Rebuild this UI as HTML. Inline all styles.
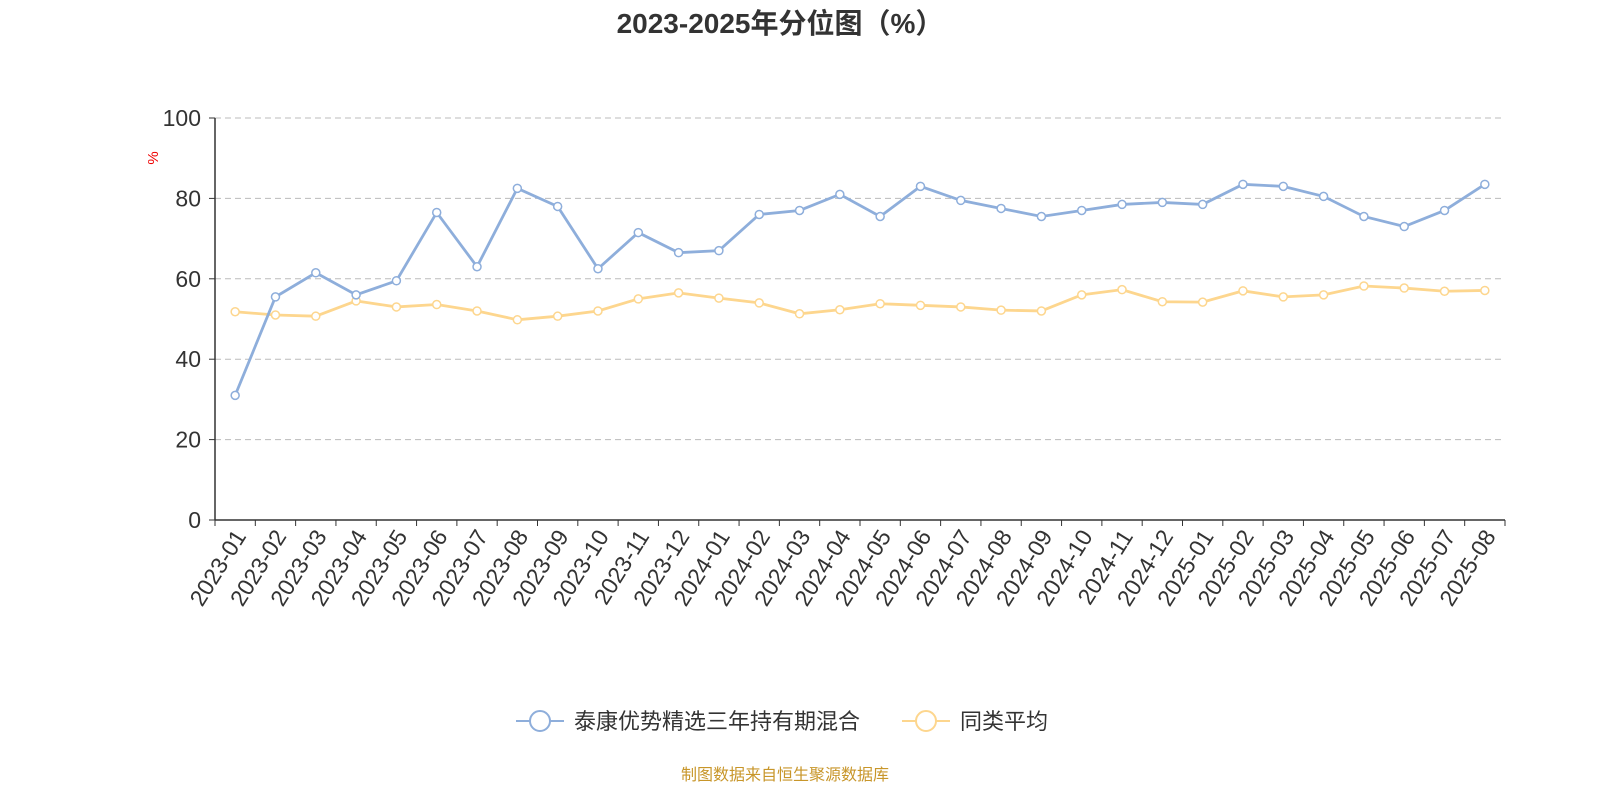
<!DOCTYPE html>
<html><head><meta charset="utf-8"><style>
body{margin:0;background:#fff;width:1600px;height:800px;overflow:hidden}
text{font-family:"Liberation Sans","Noto Sans CJK SC",sans-serif}
</style></head><body>
<svg id="chart" width="1600" height="800">
<text x="780" y="33" text-anchor="middle" font-size="28" font-weight="bold" fill="#333">2023-2025年分位图（%）</text>
<text x="0" y="0" transform="translate(158,158) rotate(-90)" text-anchor="middle" font-size="15" fill="#e00">%</text>
<g id="grid"></g><g id="axes"></g><g id="series"></g>
<g>
<g>
<line x1="516" y1="721" x2="564" y2="721" stroke="#8eaedb" stroke-width="2"/>
<circle cx="540" cy="721" r="10" fill="#fff" stroke="#8eaedb" stroke-width="2"/>
<text x="574" y="729" font-size="22" fill="#333">泰康优势精选三年持有期混合</text></g>
<g>
<line x1="902" y1="721" x2="950" y2="721" stroke="#fdd68e" stroke-width="2"/>
<circle cx="926" cy="721" r="10" fill="#fff" stroke="#fdd68e" stroke-width="2"/>
<text x="960" y="729" font-size="22" fill="#333">同类平均</text></g>
</g>
<text x="785" y="780" text-anchor="middle" font-size="16" fill="#c8962a">制图数据来自恒生聚源数据库</text>
</svg>
<script>
const categories=["2023-01","2023-02","2023-03","2023-04","2023-05","2023-06","2023-07","2023-08","2023-09","2023-10","2023-11","2023-12","2024-01","2024-02","2024-03","2024-04","2024-05","2024-06","2024-07","2024-08","2024-09","2024-10","2024-11","2024-12","2025-01","2025-02","2025-03","2025-04","2025-05","2025-06","2025-07","2025-08"];
const fundValues=[31,55.5,61.5,56,59.5,76.5,63,82.5,78,62.5,71.5,66.5,67,76,77,81,75.5,83,79.5,77.5,75.5,77,78.5,79,78.5,83.5,83,80.5,75.5,73,77,83.5];
const avgValues=[51.8,51,50.7,54.5,53,53.6,52,49.8,50.7,52,55,56.5,55.2,54,51.3,52.3,53.8,53.4,53,52.2,52,56,57.3,54.3,54.2,57,55.5,56,58.2,57.7,56.9,57.1];
const yTicks=[0,20,40,60,80,100];
const NS="http://www.w3.org/2000/svg";
const X0=215,X1=1505,Y0=520,Y1=118;
const bw=(X1-X0)/categories.length;
const xs=i=>X0+bw*(i+0.5);
const ys=v=>Y0-(v/100)*(Y0-Y1);
function mk(tag,attrs,parent){const e=document.createElementNS(NS,tag);for(const k in attrs)e.setAttribute(k,attrs[k]);parent.appendChild(e);return e;}
const grid=document.getElementById('grid'),axes=document.getElementById('axes'),series=document.getElementById('series');
yTicks.forEach(t=>{
  if(t>0){const g=mk('line',{x1:X0,x2:X1,y1:ys(t),y2:ys(t),stroke:'#bbb','stroke-dasharray':'6,4'},grid);
  
  }
  const tk=mk('line',{x1:X0-6,x2:X0,y1:ys(t),y2:ys(t),stroke:'#333'},axes);
  
  
  const tx=mk('text',{x:X0-14,y:ys(t)+8,'text-anchor':'end','font-size':23,fill:'#333'},axes);
  tx.textContent=t;
  
  
});
const ya=mk('line',{x1:X0,x2:X0,y1:Y1,y2:Y0,stroke:'#333','stroke-width':1.5},axes);


const xa=mk('line',{x1:X0,x2:X1,y1:Y0,y2:Y0,stroke:'#333','stroke-width':1.5},axes);


for(let i=0;i<=categories.length;i++){
  const t=mk('line',{x1:X0+bw*i,x2:X0+bw*i,y1:Y0,y2:Y0+6,stroke:'#333'},axes);
  
  
}
categories.forEach((c,i)=>{
  const x=xs(i)+2,y=Y0+10;
  const t=mk('text',{x:x,y:y,'text-anchor':'end','font-size':23,fill:'#333',transform:`rotate(-58 ${x} ${y})`,dy:'0.5em'},axes);
  t.textContent=c;
  
  
});
function drawSeries(vals,color,name){
  const p=mk('polyline',{points:vals.map((v,i)=>xs(i)+','+ys(v)).join(' '),fill:'none',stroke:color,'stroke-width':2.8},series);
  
  
  vals.forEach((v,i)=>{
    const c=mk('circle',{cx:xs(i),cy:ys(v),r:4,fill:'#fff',stroke:color,'stroke-width':1.5},series);
    
    
  });
}
drawSeries(avgValues,'#fdd68e','average');
drawSeries(fundValues,'#8eaedb','fund');
</script>
</body></html>
